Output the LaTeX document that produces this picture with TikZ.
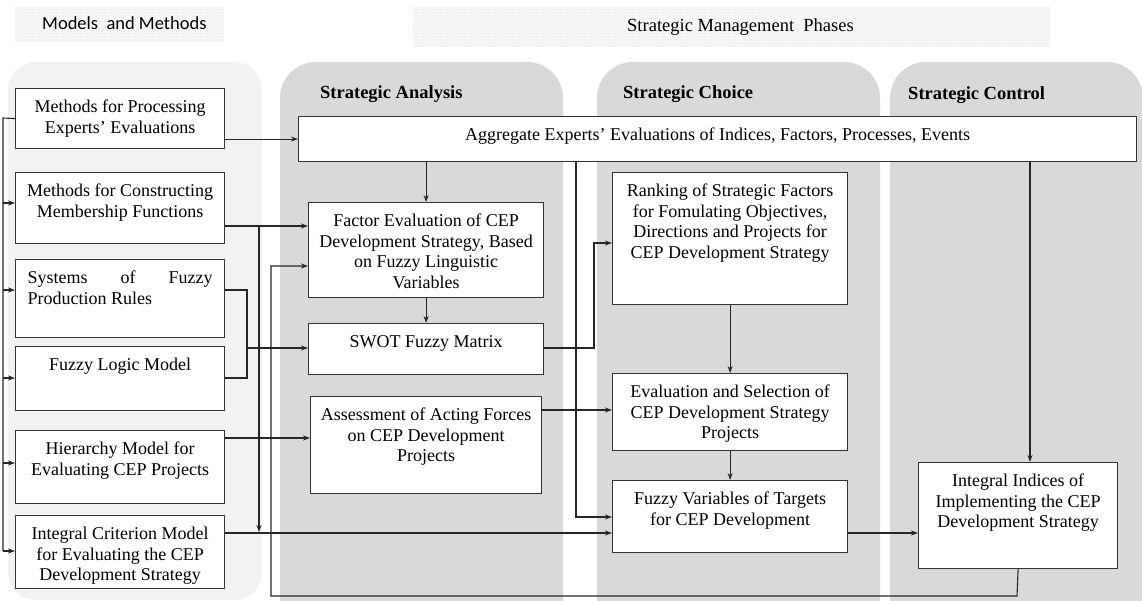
\documentclass[tikz,border=0pt]{standalone}
\usepackage{fontspec}
\setmainfont{Liberation Serif}
\newfontfamily\labelfont{Carlito}
\usetikzlibrary{arrows.meta,patterns}

\begin{document}
\begin{tikzpicture}[x=1pt,y=-1pt,
	box/.style={draw=black!80,line width=1.2pt,fill=white,inner sep=0pt,anchor=north west,font=\fontsize{18}{20.5}\selectfont},
	phase/.style={fill=black!15,rounded corners=36pt},
	heading/.style={anchor=base west,inner sep=0pt,font=\fontsize{18.5}{22}\selectfont\bfseries},
	conn/.style={draw=black!85,line width=1.1pt},
	connarr/.style={conn,-{Stealth[length=7pt,width=5pt]}}]
	\def\boxtext#1#2#3{\parbox[c][#2pt][t]{#1pt}{\centering\rule{0pt}{24pt}#3\par}}
	\useasboundingbox (0,0) rectangle (1142,601);
	\begin{scope}
	\clip (0,0) rectangle (1142,601);
	\fill[black!5,rounded corners=28pt] (8,62) rectangle (262,600);
	\fill[phase] (280,62) rectangle (563,640);
	\fill[phase] (597,62) rectangle (880,640);
	\fill[phase] (890,62) rectangle (1143,640);
	\end{scope}
	\fill[black!3] (15,7) rectangle (224,42);
	\fill[pattern=dots,pattern color=black!15] (15,7) rectangle (224,42);
	\fill[black!3] (413,7) rectangle (1050,47);
	\fill[pattern=dots,pattern color=black!15] (413,7) rectangle (1050,47);
	\node[anchor=base west,inner sep=0pt,font=\labelfont\fontsize{18.5}{22}\selectfont] (MM) at (42,30) {Models\ \ and Methods};
	\node[anchor=base west,inner sep=0pt,font=\fontsize{18.5}{22}\selectfont] (SMP) at (627,32) {Strategic Management\ \ Phases};
	\node[heading] (SA) at (320,99) {Strategic Analysis};
	\node[heading] (SC) at (623,99) {Strategic Choice};
	\node[heading] (SCT) at (908,100) {Strategic Control};
	\node[box] (MPE) at (15,88) {\boxtext{209}{60}{Methods for Processing\\Experts' Evaluations}};
	\node[box] (MCM) at (15,172) {\boxtext{209}{71}{Methods for Constructing\\Membership Functions}};
	\node[box] (SFP) at (15,259) {\boxtext{209}{78}{\makebox[185pt][s]{Systems of Fuzzy}\\\makebox[185pt][l]{Production Rules}}};
	\node[box] (FLM) at (15,346) {\boxtext{209}{64}{Fuzzy Logic Model}};
	\node[box] (HME) at (15,430) {\boxtext{209}{73}{Hierarchy Model for\\Evaluating CEP Projects}};
	\node[box] (ICM) at (15,515) {\boxtext{209}{73}{Integral Criterion Model\\for Evaluating the CEP\\Development Strategy}};
	\node[box] (AGG) at (298,116) {\boxtext{838}{45}{Aggregate Experts' Evaluations of Indices, Factors, Processes, Events}};
	\node[box] (FEV) at (308,202) {\boxtext{235}{95}{Factor Evaluation of CEP\\Development Strategy, Based\\on Fuzzy Linguistic\\Variables}};
	\node[box] (SWOT) at (308,323) {\boxtext{235}{51}{SWOT Fuzzy Matrix}};
	\node[box] (AAF) at (310,396) {\boxtext{231}{97}{Assessment of Acting Forces\\on CEP Development\\Projects}};
	\node[box] (RSF) at (612,172) {\boxtext{235}{132}{Ranking of Strategic Factors\\for Fomulating Objectives,\\Directions and Projects for\\CEP Development Strategy}};
	\node[box] (ESP) at (612,373) {\boxtext{235}{77}{Evaluation and Selection of\\CEP Development Strategy\\Projects}};
	\node[box] (FVT) at (612,480) {\boxtext{235}{72}{Fuzzy Variables of Targets\\for CEP Development}};
	\node[box] (III) at (918,462) {\boxtext{199}{106}{Integral Indices of\\Implementing the CEP\\Development Strategy}};
	\coordinate (BT) at (3,118);
	\coordinate (BB) at (3,551);
	\draw[conn] (MPE.west) -- (BT) -- (BB);
	\foreach \n/\y in {MCM/203,SFP/290,FLM/378,HME/463,ICM/551}
		\draw[connarr] (3,\y) -- (\n.west |- 0,\y);
	\draw[connarr] (MPE.east |- AGG.west) -- (AGG.west);
	\coordinate (MS) at (259,226);
	\draw[connarr] (MCM.east |- MS) -- (FEV.west |- MS);
	\draw[connarr] (MS) -- (259,532);
	\coordinate (RS) at (247,348);
	\draw[conn] (SFP.east |- 0,290) -| (247,378) -- (FLM.east |- 0,378);
	\draw[connarr] (RS) -- (SWOT.west |- RS);
	\draw[connarr] (HME.east |- 0,438) -- (AAF.west |- 0,438);
	\draw[connarr] (ICM.east |- 0,533) -- (FVT.west |- 0,533);
	\draw[connarr] (AGG.south -| FEV.north) -- (FEV.north);
	\draw[connarr] (FEV.south) -- (SWOT.north);
	\draw[connarr] (AGG.south -| 576,0) |- (FVT.west |- 0,517);
	\draw[connarr] (AGG.south -| 1030,0) -- (III.north -| 1030,0);
	\draw[connarr] (SWOT.east |- RS) -- (594,348) |- (RSF.west |- 0,243);
	\draw[connarr] (AAF.east |- 0,410) -- (ESP.west |- 0,410);
	\draw[connarr] (RSF.south) -- (ESP.north);
	\draw[connarr] (ESP.south) -- (FVT.north);
	\draw[connarr] (FVT.east |- 0,533) -- (III.west |- 0,533);
	\draw[connarr] (III.south) -- (1017,596) -| (271,266) -- (FEV.west |- 0,266);
\end{tikzpicture}
\end{document}
